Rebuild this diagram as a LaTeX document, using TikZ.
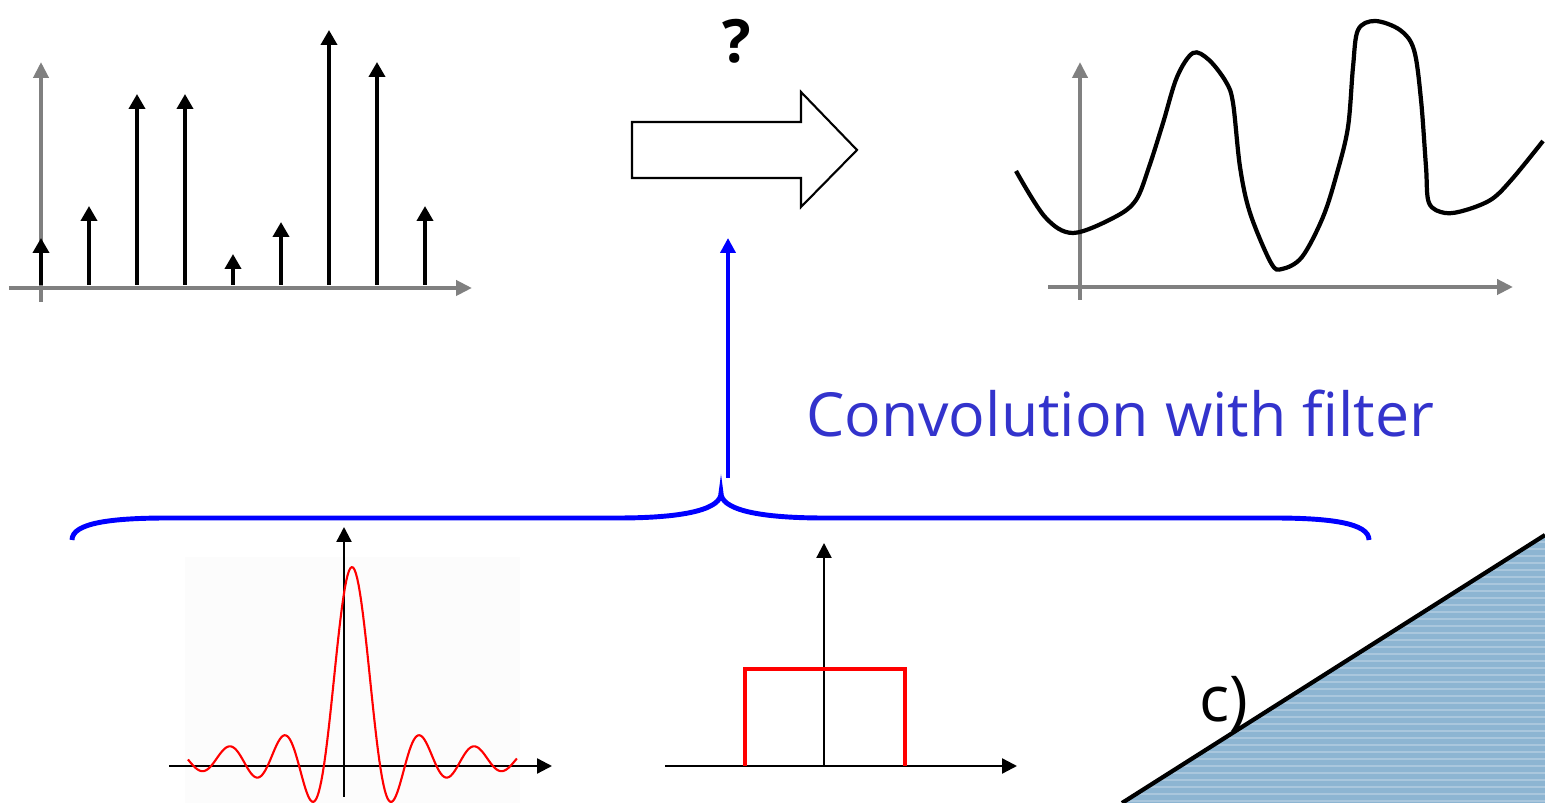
\documentclass[tikz,border=0pt]{standalone}
\usepackage{fontspec}
\setmainfont{Open Sans}
\usetikzlibrary{arrows.meta}
\definecolor{axgray}{RGB}{128,128,128}
\definecolor{convblue}{RGB}{51,51,204}
\definecolor{wedgeblue}{RGB}{141,181,210}

\begin{document}
\begin{tikzpicture}[gax/.style={draw=axgray,line width=1.4pt,-{Triangle[length=1.6mm,width=1.5mm]}},stem/.style={line width=1.1pt,-{Triangle[length=1.5mm,width=1.6mm]}},kax/.style={line width=0.65pt,-{Triangle[length=1.5mm,width=1.5mm]}},filt/.style={red,line width=0.6pt},brace/.style={blue,line width=1.4pt}]
\useasboundingbox (0,0) rectangle (15.45,8.03);
% samples on the left
\draw[gax] (0.09,5.15)--(4.72,5.15);\draw[gax] (0.41,5.01)--(0.41,7.41);
\foreach \k/\h in {0/5.65,1/5.97,2/7.09,3/7.09,4/5.49,5/5.81,6/7.73,7/7.41,8/5.97}
  \draw[stem] (0.41+0.48*\k,5.18)--(0.41+0.48*\k,\h);
% block arrow and question mark
\draw[line width=0.6pt,fill=white] (6.32,6.25)--(6.32,6.81)--(8.01,6.81)--(8.01,7.11)--(8.57,6.53)--(8.01,5.96)--(8.01,6.25)--cycle;
\node[font=\fontsize{17}{20}\selectfont\bfseries] (qm) at (7.37,7.62) {?};
% reconstructed signal
\draw[gax] (10.48,5.16)--(15.13,5.16);\draw[gax] (10.80,5.03)--(10.80,7.41);
\draw[line width=1.2pt] plot[smooth,tension=0.55] coordinates {(10.16,6.32) (10.45,5.86) (10.73,5.70) (11.15,5.86) (11.36,6.03) (11.49,6.36) (11.63,6.80) (11.77,7.26) (11.93,7.50) (12.09,7.43) (12.26,7.21) (12.33,7.00) (12.40,6.36) (12.50,5.90) (12.71,5.40) (12.82,5.34) (13.02,5.46) (13.23,5.86) (13.37,6.30) (13.48,6.76) (13.53,7.36) (13.58,7.73) (13.75,7.82) (14.00,7.73) (14.14,7.53) (14.21,7.03) (14.26,6.36) (14.29,6.00) (14.45,5.90) (14.66,5.93) (14.92,6.04) (15.13,6.25) (15.43,6.62)};
% brace and label
\coordinate (brtip) at (7.21,3.10);
\coordinate (blkbot) at (7.28,5.65);
\draw[brace] (0.72,2.63) .. controls (0.72,2.80) and (1.11,2.85) .. (1.68,2.85)--(6.18,2.85) .. controls (6.90,2.85) and (7.21,2.95) .. (brtip) .. controls (7.21,2.95) and (7.52,2.85) .. (8.24,2.85)--(12.73,2.85) .. controls (13.30,2.85) and (13.69,2.80) .. (13.69,2.63);
\draw[blue,line width=1.2pt,-{Triangle[length=1.5mm,width=1.5mm]}] (7.28,3.25)--(blkbot);
\node[anchor=base,text=convblue,font=\fontsize{17.3}{21}\selectfont] (conv) at (11.20,3.66) {Convolution with filter};
% sinc filter
\fill[black!1] (1.85,0) rectangle (5.20,2.46);
\draw[kax] (1.69,0.37)--(5.52,0.37);\draw[kax] (3.44,0.06)--(3.44,2.76);
\draw[filt] plot[domain=-18.9:19,samples=240] ({3.52+0.0868*\x},{0.43+1.93*sin(\x r)/\x});
% box filter
\draw[kax] (6.65,0.37)--(10.17,0.37);\draw[kax] (8.24,0.37)--(8.24,2.60);
\draw[red,line width=1.1pt] (7.45,0.37)--(7.45,1.34)--(9.05,1.34)--(9.05,0.37);
% corner wedge
\begin{scope}
\clip (11.22,0)--(15.45,2.68)--(15.45,0)--cycle;
\fill[wedgeblue] (11.22,0) rectangle (15.45,2.7);
\foreach \y in {0.02,0.09,...,2.7} \draw[wedgeblue!75!white,line width=0.5pt] (11.2,\y)--(15.45,\y);
\end{scope}
\draw[line width=1.2pt] (11.22,0)--(15.45,2.68);
\node[anchor=base,font=\fontsize{18}{22}\selectfont] (lblc) at (12.24,0.81) {c)};
\end{tikzpicture}
\end{document}
